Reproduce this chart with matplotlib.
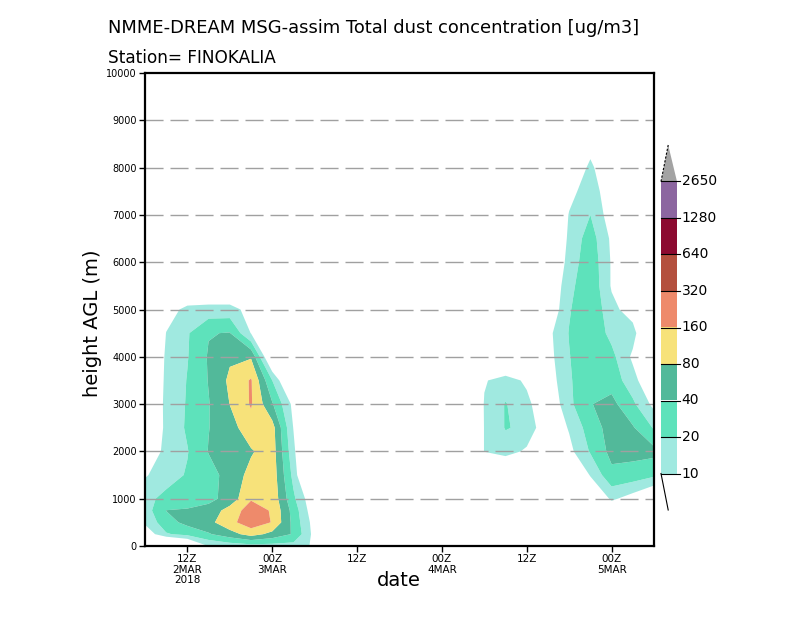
import numpy as np
import matplotlib
matplotlib.use("Agg")
import matplotlib.pyplot as plt
from matplotlib.colors import ListedColormap, BoundaryNorm
from matplotlib.patches import Polygon, Rectangle

# ---------------- data ----------------
# hours since 06Z 2 MAR 2018 (every 3 h up to 06Z 5 MAR)
times = [0, 3, 6, 9, 12, 15, 18, 21, 24, 27, 30, 33, 36, 39, 42, 45, 48, 51, 54, 57, 60, 63, 66, 69, 72]
heights = [0, 250, 500, 750, 1000, 1500, 2000, 2500, 3000, 3500, 4000, 4500, 5000,
           5500, 6000, 6500, 7000, 7500, 8000, 8500, 9000]

# dust concentration (ug/m3) at each height level, one value per time
c_0000 = [0, 0, 2.5, 10.4, 13.2, 15.2, 15.2, 15.2, 8.7, 0, 0, 0, 0, 0, 0, 0, 0, 0, 0, 0, 0, 0, 0, 0, 0]
c_0250 = [5.7, 18.7, 24.6, 37.3, 60.6, 105.6, 65.0, 37.3, 7.6, 0, 0, 0, 0, 0, 0, 0, 0, 0, 0, 0, 0, 0, 0, 0, 0]
c_0500 = [11.5, 30.3, 49.2, 65.0, 130.0, 242.5, 154.5, 32.5, 7.1, 0, 0, 0, 0, 0, 0, 0, 0, 0, 0, 0, 0, 0, 2.5, 0, 0]
c_0750 = [14.1, 40.5, 42.9, 52.8, 105.6, 226.3, 149.3, 30.3, 5.7, 0, 0, 0, 0, 0, 0, 0, 0, 0, 0, 0, 0, 1.8, 5.0, 2.5, 0]
c_1000 = [16.2, 24.6, 28.3, 32.5, 52.8, 149.3, 130.0, 23.0, 5.0, 0, 0, 0, 0, 0, 0, 0, 0, 0, 0, 0, 0, 3.5, 11.5, 7.1, 3.5]
c_1500 = [9.3, 14.6, 21.4, 30.3, 52.8, 98.5, 121.3, 16.2, 0, 0, 0, 0, 0, 0, 0, 0, 0, 2.5, 2.5, 0, 2.5, 10.7, 33.6, 30.3, 23.0]
c_2000 = [5.4, 12.3, 19.3, 41.4, 56.6, 74.6, 113.1, 12.3, 0, 0, 0, 0, 0, 0, 0, 0, 10.4, 14.1, 8.7, 2.5, 8.1, 21.4, 49.2, 49.2, 49.2]
c_2500 = [4.4, 11.5, 22.2, 39.2, 60.6, 121.3, 105.6, 9.7, 0, 0, 0, 0, 0, 0, 0, 0, 10.4, 20.9, 17.4, 5.0, 10.7, 28.3, 52.8, 42.9, 18.7]
c_3000 = [4.7, 11.5, 21.4, 38.6, 81.0, 171.5, 42.9, 8.1, 0, 0, 0, 0, 0, 0, 0, 0, 10.7, 20.9, 12.3, 5.0, 16.9, 38.9, 49.2, 23.0, 8.1]
c_3500 = [4.7, 11.1, 20.7, 41.4, 91.9, 171.5, 20.0, 2.5, 0, 0, 0, 0, 0, 0, 0, 0, 9.3, 14.1, 8.7, 6.6, 18.0, 37.3, 30.3, 13.2, 4.4]
c_4000 = [5.0, 10.7, 19.3, 42.9, 72.1, 74.6, 3.1, 0, 0, 0, 0, 0, 0, 0, 0, 0, 1.8, 2.5, 1.8, 7.6, 19.3, 37.3, 24.6, 8.7, 3.5]
c_4500 = [1.8, 10.2, 18.7, 38.6, 41.4, 9.7, 2.5, 0, 0, 0, 0, 0, 0, 0, 0, 0, 0, 0, 0, 8.1, 20.7, 34.8, 16.2, 13.2, 2.5]
c_5000 = [0, 7.1, 12.3, 13.2, 13.2, 7.6, 0, 0, 0, 0, 0, 0, 0, 0, 0, 0, 0, 0, 0, 5.0, 18.7, 37.3, 12.3, 7.1, 0]
c_5500 = [0, 0, 3.5, 3.5, 3.5, 0, 0, 0, 0, 0, 0, 0, 0, 0, 0, 0, 0, 0, 0, 4.4, 16.2, 34.8, 9.3, 0, 0]
c_6000 = [0, 0, 0, 0, 0, 0, 0, 0, 0, 0, 0, 0, 0, 0, 0, 0, 0, 0, 0, 3.5, 13.2, 32.5, 9.3, 0, 0]
c_6500 = [0, 0, 0, 0, 0, 0, 0, 0, 0, 0, 0, 0, 0, 0, 0, 0, 0, 0, 0, 2.5, 11.9, 28.3, 8.7, 0, 0]
c_7000 = [0, 0, 0, 0, 0, 0, 0, 0, 0, 0, 0, 0, 0, 0, 0, 0, 0, 0, 0, 1.8, 10.7, 20.0, 6.6, 0, 0]
c_7500 = [0, 0, 0, 0, 0, 0, 0, 0, 0, 0, 0, 0, 0, 0, 0, 0, 0, 0, 0, 0, 7.1, 17.4, 5.0, 0, 0]
c_8000 = [0, 0, 0, 0, 0, 0, 0, 0, 0, 0, 0, 0, 0, 0, 0, 0, 0, 0, 0, 0, 1.8, 14.7, 1.8, 0, 0]
c_8500 = [0, 0, 0, 0, 0, 0, 0, 0, 0, 0, 0, 0, 0, 0, 0, 0, 0, 0, 0, 0, 0, 5.0, 0, 0, 0]
c_9000 = [0, 0, 0, 0, 0, 0, 0, 0, 0, 0, 0, 0, 0, 0, 0, 0, 0, 0, 0, 0, 0, 0, 0, 0, 0]

levels = [10, 20, 40, 80, 160, 320, 640, 1280, 2650]
level_labels = ["10", "20", "40", "80", "160", "320", "640", "1280", "2650"]
colors = ["#a0e9e0", "#5ee2bb", "#52b99a", "#f7e27a", "#ee8a6b", "#b4503e", "#8c0a30", "#8c66a0"]
over_color = "#a3a3a3"

tick_times = [6, 18, 30, 42, 54, 66]
tick_labels = ["12Z\n2MAR\n2018", "00Z\n3MAR", "12Z", "00Z\n4MAR", "12Z", "00Z\n5MAR"]
ytick_vals = [0, 1000, 2000, 3000, 4000, 5000, 6000, 7000, 8000, 9000, 10000]

title1 = "NMME-DREAM MSG-assim Total dust concentration [ug/m3]"
title2 = "Station= FINOKALIA"

# ---------------- figure ----------------
W, H = 800, 618
fig = plt.figure(figsize=(W / 100, H / 100), dpi=100)
fig.patch.set_facecolor("white")


def fx(x):
    return x / W


def fy(y):
    return 1 - y / H


L, R, T, B = 145, 654, 73, 546
ax = fig.add_axes([fx(L), fy(B), (R - L) / W, (B - T) / H])

rows = [c_0000, c_0250, c_0500, c_0750, c_1000, c_1500, c_2000, c_2500, c_3000, c_3500,
        c_4000, c_4500, c_5000, c_5500, c_6000, c_6500, c_7000, c_7500, c_8000, c_8500, c_9000]
conc = np.array(rows, dtype=float)
logc = np.log2(np.maximum(conc, 1.0) / 10.0)
lev_log = np.log2(np.array(levels, dtype=float) / 10.0)

cmap = ListedColormap(colors)
cmap.set_over(over_color)
norm = BoundaryNorm(lev_log, cmap.N)
ax.contourf(times, heights, logc, levels=lev_log, cmap=cmap, norm=norm,
            extend="max", antialiased=True, zorder=1)

ax.set_xlim(0, 72)
ax.set_ylim(0, 10000)

# gridlines
for yv in ytick_vals[1:-1]:
    ax.axhline(yv, color="#a0a0a0", lw=1.0, dashes=(13, 5), zorder=3)

ax.set_xticks(tick_times)
ax.set_xticklabels(tick_labels, fontsize=7.5, linespacing=1.05)
ax.set_yticks(ytick_vals)
ax.set_yticklabels([str(v) for v in ytick_vals], fontsize=7)
ax.tick_params(axis="both", direction="out", length=4, width=1, pad=2, colors="black")
for sp in ax.spines.values():
    sp.set_linewidth(1.6)
    sp.set_zorder(5)

fig.text(fx(108), fy(28), title1, fontsize=12.9, ha="left", va="center")
fig.text(fx(108), fy(58), title2, fontsize=12.2, ha="left", va="center")
fig.text(fx(93), fy(323), "height AGL (m)", fontsize=14, rotation=90, ha="center", va="center")
fig.text(fx(399), fy(580), "date", fontsize=14, ha="center", va="center")

# ---------------- colour key ----------------
top_px, bot_px = 145, 510
cax = fig.add_axes([fx(661), fy(bot_px), 16 / W, (bot_px - top_px) / H])
cax.set_xlim(0, 1)
cax.set_ylim(-1, 9)
cax.axis("off")
n = len(colors)
for i, col in enumerate(colors):
    cax.add_patch(Rectangle((0, i), 1, 1, facecolor=col, edgecolor="none", clip_on=False))
cax.add_patch(Polygon([(0, n), (1, n), (0.45, n + 1)], closed=True, facecolor=over_color,
                      edgecolor="none", clip_on=False))
cax.plot([0, 0.45], [n, n + 1], color="black", lw=0.8, ls=(0, (2, 1.5)), clip_on=False)
cax.plot([0, 0.45], [0, -1], color="black", lw=0.8, clip_on=False)
for i in range(n + 1):
    cax.plot([0, 1.2], [i, i], color="black", lw=0.8, clip_on=False)
    cax.text(1.3, i, level_labels[i], fontsize=10, ha="left", va="center", clip_on=False)

fig.savefig("out.png", dpi=100, facecolor="white")
